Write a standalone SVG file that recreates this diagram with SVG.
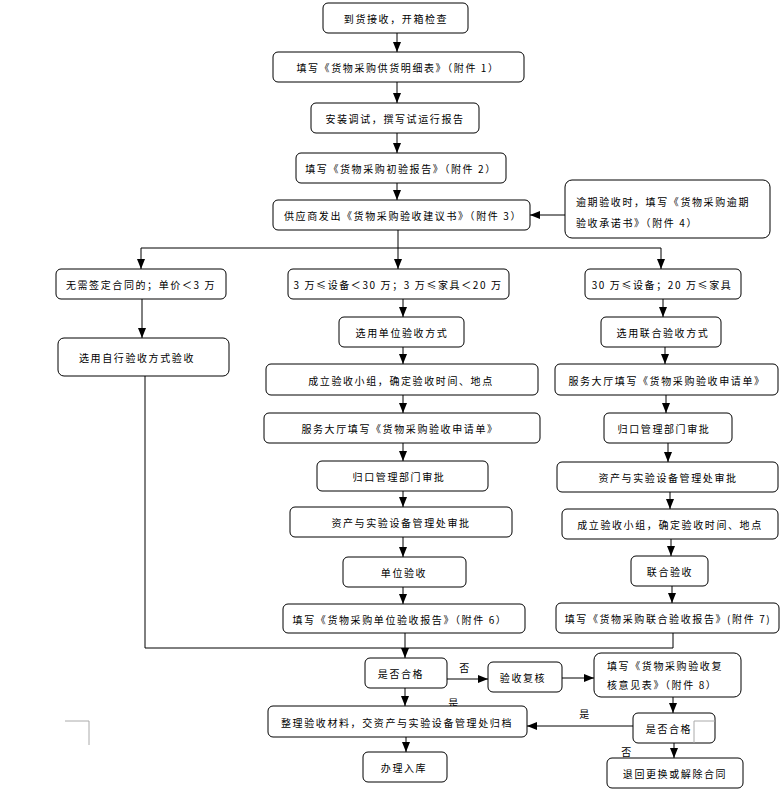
<svg xmlns="http://www.w3.org/2000/svg" width="784" height="793" viewBox="0 0 784 793">
<defs>
<style>
.b{fill:#fff;stroke:#000;stroke-width:1}
.t{font-family:"Noto Sans CJK SC","Liberation Sans",sans-serif;font-size:10px;letter-spacing:1.6px;fill:#000;text-anchor:middle;dominant-baseline:central}
.l{text-anchor:start}
.c{fill:none;stroke:#000;stroke-width:1}
.a{marker-end:url(#ar)}
.g{fill:none;stroke:#aaa;stroke-width:1}
</style>
<marker id="ar" markerWidth="10" markerHeight="8" refX="10" refY="4" orient="auto" markerUnits="userSpaceOnUse"><path d="M0,0 L10,4 L0,8 z" fill="#000"/></marker>
</defs>
<rect width="784" height="793" fill="#fff"/>
<g id="connectors">
<path class="c a" d="M397,33 V52"/>
<path class="c a" d="M397,82 V103"/>
<path class="c a" d="M397,133 V153"/>
<path class="c a" d="M397,183 V200"/>
<path class="c a" d="M565,215 H530"/>
<path class="c a" d="M398,230 V269"/>
<path class="c" d="M141,248 H661"/>
<path class="c a" d="M141,248 V269"/>
<path class="c a" d="M661,248 V269"/>
<path class="c a" d="M142,299 V338"/>
<path class="c" d="M145,376 V648 H673 V633"/>
<path class="c a" d="M403,299 V317"/>
<path class="c a" d="M403,347 V364"/>
<path class="c a" d="M403,395 V413"/>
<path class="c a" d="M403,443 V461"/>
<path class="c a" d="M403,491 V507"/>
<path class="c a" d="M403,537 V557"/>
<path class="c a" d="M403,587 V604"/>
<path class="c a" d="M405,633 V658"/>
<path class="c a" d="M663,299 V317"/>
<path class="c a" d="M665,347 V364"/>
<path class="c a" d="M666,395 V413"/>
<path class="c a" d="M668,443 V462"/>
<path class="c a" d="M670,492 V509"/>
<path class="c a" d="M671,539 V556"/>
<path class="c a" d="M672,586 V603"/>
<path class="c a" d="M447,679 H488"/>
<path class="c a" d="M562,678 H594"/>
<path class="c a" d="M673,697 V713"/>
<path class="c a" d="M405,688 V706"/>
<path class="c a" d="M633,726 H527"/>
<path class="c a" d="M674,743 V758"/>
<path class="c a" d="M406,737 V752"/>
<text class="t" x="465" y="667">否</text>
<text class="t" x="454" y="702">是</text>
<text class="t" x="585" y="713">是</text>
<text class="t" x="627" y="751">否</text>
</g>
<g id="n1"><rect class="b" x="323" y="3" width="145" height="30" rx="5"/><text class="t" x="396" y="18">到货接收，开箱检查</text></g>
<g id="n2"><rect class="b" x="273" y="52" width="251" height="30" rx="5"/><text class="t" x="398" y="67">填写《货物采购供货明细表》（附件 1）</text></g>
<g id="n3"><rect class="b" x="311" y="103" width="168" height="30" rx="5"/><text class="t" x="395" y="118">安装调试，撰写试运行报告</text></g>
<g id="n4"><rect class="b" x="296" y="153" width="210" height="30" rx="5"/><text class="t" x="401" y="168">填写《货物采购初验报告》（附件 2）</text></g>
<g id="n5"><rect class="b" x="273" y="200" width="257" height="30" rx="5"/><text class="t" x="403" y="215">供应商发出《货物采购验收建议书》（附件 3）</text></g>
<g id="n6"><rect class="b" x="565" y="180" width="205" height="58" rx="7"/><text class="t l" x="576" y="201">逾期验收时，填写《货物采购逾期</text><text class="t l" x="576" y="222">验收承诺书》（附件 4）</text></g>
<g id="n7"><rect class="b" x="56" y="269" width="170" height="30" rx="5"/><text class="t" x="141" y="284">无需签定合同的；单价＜3 万</text></g>
<g id="n8"><rect class="b" x="288" y="269" width="221" height="30" rx="5"/><text class="t" x="398" y="284">3 万≤设备＜30 万；3 万≤家具＜20 万</text></g>
<g id="n9"><rect class="b" x="585" y="269" width="156" height="30" rx="5"/><text class="t" x="662" y="284">30 万≤设备；20 万≤家具</text></g>
<g id="n10"><rect class="b" x="58" y="338" width="171" height="38" rx="6"/><text class="t" x="137" y="357">选用自行验收方式验收</text></g>
<g id="m1"><rect class="b" x="339" y="317" width="125" height="30" rx="5"/><text class="t" x="402" y="332">选用单位验收方式</text></g>
<g id="m2"><rect class="b" x="266" y="364" width="272" height="31" rx="5"/><text class="t" x="401" y="380">成立验收小组，确定验收时间、地点</text></g>
<g id="m3"><rect class="b" x="264" y="413" width="276" height="30" rx="5"/><text class="t" x="400" y="428">服务大厅填写《货物采购验收申请单》</text></g>
<g id="m4"><rect class="b" x="317" y="461" width="171" height="30" rx="5"/><text class="t" x="399" y="476">归口管理部门审批</text></g>
<g id="m5"><rect class="b" x="290" y="507" width="222" height="30" rx="5"/><text class="t" x="401" y="522">资产与实验设备管理处审批</text></g>
<g id="m6"><rect class="b" x="343" y="557" width="123" height="30" rx="5"/><text class="t" x="404" y="572">单位验收</text></g>
<g id="m7"><rect class="b" x="283" y="604" width="242" height="29" rx="5"/><text class="t" x="400" y="619">填写《货物采购单位验收报告》（附件 6）</text></g>
<g id="r1"><rect class="b" x="601" y="317" width="120" height="30" rx="5"/><text class="t" x="663" y="332">选用联合验收方式</text></g>
<g id="r2"><rect class="b" x="555" y="364" width="223" height="31" rx="5"/><text class="t" x="667" y="380">服务大厅填写《货物采购验收申请单》</text></g>
<g id="r3"><rect class="b" x="604" y="413" width="128" height="30" rx="5"/><text class="t" x="664" y="428">归口管理部门审批</text></g>
<g id="r4"><rect class="b" x="557" y="462" width="221" height="30" rx="5"/><text class="t" x="668" y="477">资产与实验设备管理处审批</text></g>
<g id="r5"><rect class="b" x="562" y="509" width="216" height="30" rx="5"/><text class="t" x="670" y="524">成立验收小组，确定验收时间、地点</text></g>
<g id="r6"><rect class="b" x="631" y="556" width="77" height="30" rx="5"/><text class="t" x="670" y="571">联合验收</text></g>
<g id="r7"><rect class="b" x="556" y="603" width="223" height="30" rx="5"/><text class="t" x="668" y="618">填写《货物采购联合验收报告》(附件 7)</text></g>
<g id="q1"><rect class="b" x="365" y="658" width="82" height="30" rx="5"/><text class="t" x="401" y="673">是否合格</text></g>
<g id="q2"><rect class="b" x="488" y="662" width="74" height="30" rx="5"/><text class="t" x="523" y="677">验收复核</text></g>
<g id="q3"><rect class="b" x="594" y="653" width="147" height="44" rx="7"/><text class="t l" x="607" y="665">填写《货物采购验收复</text><text class="t l" x="607" y="684">核意见表》（附件 8）</text></g>
<g id="q4"><rect class="b" x="268" y="706" width="259" height="31" rx="5"/><text class="t" x="397" y="722">整理验收材料，交资产与实验设备管理处归档</text></g>
<g id="q5"><rect class="b" x="633" y="713" width="82" height="30" rx="5"/><text class="t" x="669" y="728">是否合格</text></g>
<g id="q6"><rect class="b" x="363" y="752" width="84" height="30" rx="5"/><text class="t" x="404" y="767">办理入库</text></g>
<g id="q7"><rect class="b" x="607" y="758" width="136" height="30" rx="5"/><text class="t" x="675" y="773">退回更换或解除合同</text></g>
<path class="g" d="M65,721 H89 V745"/>
<path class="g" d="M715,721 H694 V743"/>
</svg>
